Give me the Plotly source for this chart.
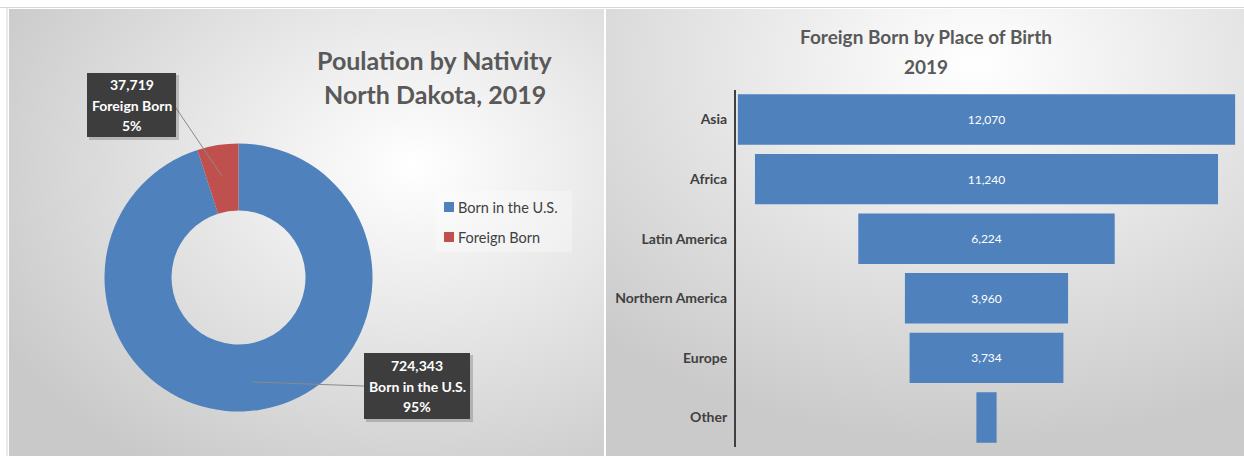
import base64
import plotly.graph_objects as go

# ---- data ----
nativity_labels = ["Born in the U.S.", "Foreign Born"]
nativity_values = [724343, 37719]
nativity_colors = ["#4F81BD", "#C0504D"]

regions = ["Asia", "Africa", "Latin America", "Northern America", "Europe", "Other"]
region_values = [12070, 11240, 6224, 3960, 3734, 491]

title_left = ["Poulation by Nativity", "North Dakota, 2019"]
title_right = ["Foreign Born by Place of Birth", "2019"]

W, H = 1244, 456
FONT = "Lato"
DARK = "#404040"
TITLE_GREY = "#595959"


def px(x):
    return x / W


def py(y):
    return 1 - y / H


def gradient_svg(cx, cy, r, inner, outer):
    svg = (
        "<svg xmlns='http://www.w3.org/2000/svg' width='100' height='100' "
        "preserveAspectRatio='none' viewBox='0 0 100 100'>"
        "<defs><radialGradient id='g' cx='{cx}' cy='{cy}' r='{r}'>"
        "<stop offset='0' stop-color='{inner}'/>"
        "<stop offset='1' stop-color='{outer}'/>"
        "</radialGradient></defs>"
        "<rect width='100' height='100' fill='url(#g)'/></svg>"
    ).format(cx=cx, cy=cy, r=r, inner=inner, outer=outer)
    return "data:image/svg+xml;base64," + base64.b64encode(svg.encode()).decode()


fig = go.Figure()

# ---- doughnut: population by nativity ----
cx, cy, rad = 238.5, 277.5, 134
fig.add_trace(go.Pie(
    labels=nativity_labels,
    values=nativity_values,
    hole=0.5,
    sort=False,
    direction="clockwise",
    rotation=0,
    marker=dict(colors=nativity_colors, line=dict(width=0)),
    textinfo="none",
    hoverinfo="skip",
    domain=dict(x=[px(cx - rad), px(cx + rad)], y=[py(cy + rad), py(cy - rad)]),
    showlegend=False,
))

# ---- funnel: foreign born by place of birth ----
fig.add_trace(go.Funnel(
    y=regions,
    x=region_values,
    orientation="h",
    marker=dict(color="#4F81BD"),
    connector=dict(visible=False),
    texttemplate="%{value:,}",
    textposition="inside",
    insidetextanchor="middle",
    textfont=dict(family=FONT, size=12, color="white"),
    hoverinfo="skip",
    showlegend=False,
    xaxis="x",
    yaxis="y",
))

shapes = []
annotations = []

# data callouts for the doughnut
total = sum(nativity_values)
callouts = [
    # box (x0, y0, x1, y1) and leader line from box side into the slice
    dict(idx=1, box=(87, 73, 176, 137), line=((176, 108), (222, 176))),
    dict(idx=0, box=(364, 353, 470, 419), line=((364, 386), (253, 382))),
]
for c in callouts:
    x0, y0, x1, y1 = c["box"]
    (lx0, ly0), (lx1, ly1) = c["line"]
    shapes.append(dict(type="line", xref="paper", yref="paper",
                       x0=px(lx0), y0=py(ly0), x1=px(lx1), y1=py(ly1),
                       line=dict(color="#8a8a8a", width=1)))
    shapes.append(dict(type="rect", xref="paper", yref="paper",
                       x0=px(x0 + 2), y0=py(y1 + 3), x1=px(x1 + 3), y1=py(y0 + 2),
                       fillcolor="rgba(0,0,0,0.18)", line=dict(width=0)))
    shapes.append(dict(type="rect", xref="paper", yref="paper",
                       x0=px(x0), y0=py(y1), x1=px(x1), y1=py(y0),
                       fillcolor="#3d3d3d", line=dict(width=0)))
    v = nativity_values[c["idx"]]
    lines = [f"{v:,}", nativity_labels[c["idx"]], f"{v / total:.0%}"]
    mid = (y0 + y1) / 2
    for k, t in enumerate(lines):
        annotations.append(dict(
            text=f"<b>{t}</b>", xref="paper", yref="paper",
            x=px((x0 + x1) / 2), y=py(mid + (k - 1) * 20.5),
            xanchor="center", yanchor="middle", showarrow=False,
            font=dict(family=FONT, size=14, color="white"),
        ))

# legend for the doughnut
shapes.append(dict(type="rect", xref="paper", yref="paper",
                   x0=px(436), x1=px(572), y0=py(252), y1=py(191),
                   fillcolor="rgba(255,255,255,0.3)", line=dict(width=0)))
for k, (lab, col) in enumerate(zip(nativity_labels, nativity_colors)):
    yc = 207 + k * 30
    shapes.append(dict(type="rect", xref="paper", yref="paper",
                       x0=px(444), x1=px(454), y0=py(yc + 5), y1=py(yc - 5),
                       fillcolor=col, line=dict(width=0)))
    annotations.append(dict(
        text=lab, xref="paper", yref="paper", x=px(456), y=py(yc),
        xanchor="left", yanchor="middle", showarrow=False,
        font=dict(family=FONT, size=14.5, color=DARK),
    ))

# chart titles
for k, t in enumerate(title_left):
    annotations.append(dict(
        text=f"<b>{t}</b>", xref="paper", yref="paper",
        x=px(435), y=py(60 + k * 34), xanchor="center", yanchor="middle",
        showarrow=False, font=dict(family=FONT, size=25, color=TITLE_GREY),
    ))
for k, t in enumerate(title_right):
    annotations.append(dict(
        text=f"<b>{t}</b>", xref="paper", yref="paper",
        x=px(925.5), y=py(37 + k * 29), xanchor="center", yanchor="middle",
        showarrow=False, font=dict(family=FONT, size=19, color=TITLE_GREY),
    ))

# sheet gridlines around the chart objects
shapes.append(dict(type="line", xref="paper", yref="paper",
                   x0=0, x1=1, y0=py(7.5), y1=py(7.5),
                   line=dict(color="#d6d6d6", width=1)))
shapes.append(dict(type="line", xref="paper", yref="paper",
                   x0=px(7), x1=px(7), y0=0, y1=py(7.5),
                   line=dict(color="#d6d6d6", width=1)))

images = [
    dict(source=gradient_svg(0.68, 0.35, 0.8, "#ffffff", "#c9c9c9"),
         xref="paper", yref="paper", x=px(9), y=py(9),
         sizex=px(604 - 9), sizey=(456 - 9) / H,
         xanchor="left", yanchor="top", sizing="stretch", layer="below"),
    dict(source=gradient_svg(0.58, 0.12, 0.85, "#ffffff", "#cacaca"),
         xref="paper", yref="paper", x=px(606), y=py(9),
         sizex=px(W - 606), sizey=(456 - 9) / H,
         xanchor="left", yanchor="top", sizing="stretch", layer="below"),
]

half = 250.5 / 0.0412
fig.update_layout(
    width=W, height=H,
    margin=dict(l=0, r=0, t=0, b=0),
    paper_bgcolor="white",
    plot_bgcolor="rgba(0,0,0,0)",
    font=dict(family=FONT, color=DARK),
    funnelgap=0.155,
    uniformtext=dict(minsize=11, mode="hide"),
    showlegend=False,
    xaxis=dict(domain=[px(736), px(1237)], range=[-half, half], visible=False,
               fixedrange=True),
    yaxis=dict(domain=[py(447.3), py(89.7)], type="category",
               categoryorder="array", categoryarray=regions,
               range=[len(regions) - 0.5, -0.5],
               showline=True, linecolor=DARK, linewidth=2,
               showgrid=False, zeroline=False, ticks="",
               ticklabelstandoff=4,
               tickfont=dict(family=FONT, size=14, color=DARK, weight="bold")),
    shapes=shapes,
    annotations=annotations,
    images=images,
)

fig.write_html("out.html")
